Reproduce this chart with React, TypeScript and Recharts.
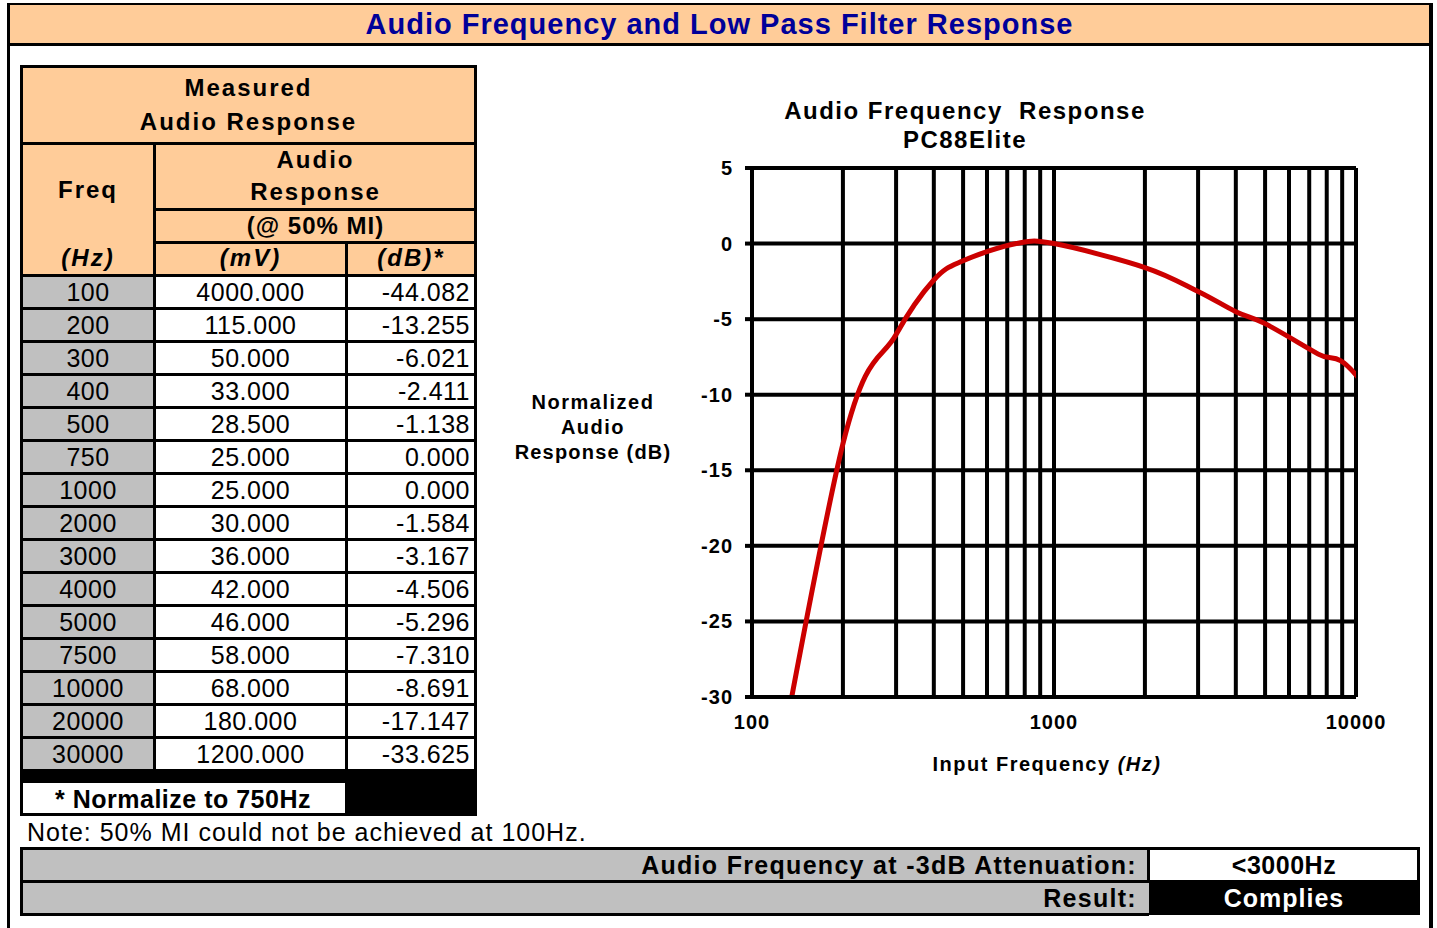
import React from 'react';
import { LineChart, Line, XAxis, YAxis, CartesianGrid } from 'recharts';

const FONT = '"Liberation Sans", Arial, Helvetica, sans-serif';

// ---- data ----
const freqs = [100, 200, 300, 400, 500, 750, 1000, 2000, 3000, 4000, 5000, 7500, 10000, 20000, 30000];
const mvValues = [4000, 115, 50, 33, 28.5, 25, 25, 30, 36, 42, 46, 58, 68, 180, 1200];
const dbValues = [-44.082, -13.255, -6.021, -2.411, -1.138, 0, 0, -1.584, -3.167, -4.506, -5.296, -7.31, -8.691, -17.147, -33.625];

const xGridTicks = [100, 200, 300, 400, 500, 600, 700, 800, 900, 1000, 2000, 3000, 4000, 5000, 6000, 7000, 8000, 9000, 10000];
const xLabelTicks = [100, 1000, 10000];
const yTicks = [5, 0, -5, -10, -15, -20, -25, -30];

const chartData = freqs.map((f, i) => ({ freq: f, db: dbValues[i] }));

// Excel-like smoothed line (Catmull-Rom style Bezier)
function excelSmooth(context: any) {
  let pts: number[][] = [];
  return {
    areaStart() {},
    areaEnd() {},
    lineStart() {
      pts = [];
    },
    point(x: number, y: number) {
      pts.push([+x, +y]);
    },
    lineEnd() {
      const n = pts.length;
      if (!n) return;
      context.moveTo(pts[0][0], pts[0][1]);
      for (let i = 0; i < n - 1; i++) {
        const p0 = pts[i - 1] || pts[i];
        const p1 = pts[i];
        const p2 = pts[i + 1];
        const p3 = pts[i + 2] || pts[i + 1];
        const c1x = p1[0] + (p2[0] - p0[0]) / 6;
        const c1y = p1[1] + (p2[1] - p0[1]) / 6;
        const c2x = p2[0] - (p3[0] - p1[0]) / 6;
        const c2y = p2[1] - (p3[1] - p1[1]) / 6;
        context.bezierCurveTo(c1x, c1y, c2x, c2y, p2[0], p2[1]);
      }
    },
  };
}

// ---- layout helpers ----
const Rect = ({ x, y, w, h, bg }: any) => (
  <div style={{ position: 'absolute', left: x, top: y, width: w, height: h, background: bg }} />
);
const HLine = ({ x1, x2, y, t = 3 }: any) => <Rect x={x1} y={y - t / 2} w={x2 - x1} h={t} bg="#000" />;
const VLine = ({ x, y1, y2, t = 3 }: any) => <Rect x={x - t / 2} y={y1} w={t} h={y2 - y1} bg="#000" />;
const Txt = ({ x, y, w, h, align = 'center', children, style }: any) => (
  <div
    style={{
      position: 'absolute',
      left: x,
      top: y,
      width: w,
      height: h,
      display: 'flex',
      alignItems: 'center',
      justifyContent: align === 'center' ? 'center' : align === 'right' ? 'flex-end' : 'flex-start',
      whiteSpace: 'pre',
      lineHeight: 1,
      color: '#000',
      ...style,
    }}
  >
    {children}
  </div>
);

const hdr = { fontSize: 24, fontWeight: 700, letterSpacing: 2 };
const cell = { fontSize: 25, letterSpacing: 0.5 };

const YTick = ({ x, y, payload }: any) => (
  <text x={x} y={y} textAnchor="end" dominantBaseline="central" fontFamily={FONT} fontSize={20} fontWeight={700} letterSpacing={1} fill="#000">
    {payload.value}
  </text>
);
const XTick = ({ x, y, payload }: any) =>
  xLabelTicks.includes(payload.value) ? (
    <text x={x} y={y + 25} textAnchor="middle" dominantBaseline="central" fontFamily={FONT} fontSize={20} fontWeight={700} letterSpacing={1} fill="#000">
      {payload.value}
    </text>
  ) : (
    <g />
  );

export default function App() {
  const rowTop = 275.5;
  const rowH = 33;
  return (
    <div style={{ position: 'absolute', left: 0, top: 0, width: 1437, height: 928, background: '#fff', fontFamily: FONT, overflow: 'hidden' }}>
      {/* frame and title bar */}
      <Rect x={8} y={3} w={1423} h={41} bg="#FFCC99" />
      <HLine x1={7} x2={1433} y={4} t={2} />
      <HLine x1={7} x2={1433} y={44} t={3} />
      <VLine x={8.5} y1={3} y2={928} t={3} />
      <VLine x={1431} y1={3} y2={928} t={4} />
      <Txt x={8} y={5} w={1423} h={39} style={{ fontSize: 29, fontWeight: 700, letterSpacing: 1, color: '#000099' }}>
        Audio Frequency and Low Pass Filter Response
      </Txt>

      {/* table backgrounds */}
      <Rect x={21} y={66} w={455} h={210} bg="#FFCC99" />
      <Rect x={21} y={276} w={134} h={495} bg="#C0C0C0" />

      {/* table lines */}
      <HLine x1={20} x2={477} y={66} />
      <HLine x1={20} x2={477} y={143.5} />
      <HLine x1={155} x2={477} y={209.5} />
      <HLine x1={155} x2={477} y={242.5} />
      <HLine x1={20} x2={477} y={275.5} />
      {freqs.map((f, i) => (
        <HLine key={'hl' + f} x1={20} x2={477} y={rowTop + rowH * (i + 1)} />
      ))}
      <VLine x={21} y1={65} y2={816} />
      <VLine x={475.5} y1={65} y2={816} />
      <VLine x={154.5} y1={143.5} y2={771} />
      <VLine x={346.5} y1={242.5} y2={771} />
      <Rect x={20} y={770} w={457} h={13} bg="#000" />
      <HLine x1={20} x2={345} y={814.5} />
      <Rect x={345} y={770} w={132} h={46} bg="#000" />

      {/* table header text */}
      <Txt x={21} y={72} w={455} h={32} style={hdr}>Measured</Txt>
      <Txt x={21} y={106} w={455} h={32} style={hdr}>Audio Response</Txt>
      <Txt x={21} y={174} w={134} h={32} style={hdr}>Freq</Txt>
      <Txt x={21} y={242} w={134} h={32} style={{ ...hdr, fontStyle: 'italic' }}>(Hz)</Txt>
      <Txt x={155} y={144} w={321} h={32} style={hdr}>Audio</Txt>
      <Txt x={155} y={176} w={321} h={32} style={hdr}>Response</Txt>
      <Txt x={155} y={210} w={321} h={32} style={{ ...hdr, letterSpacing: 1 }}>(@ 50% MI)</Txt>
      <Txt x={155} y={242} w={191} h={32} style={{ ...hdr, fontStyle: 'italic' }}>(mV)</Txt>
      <Txt x={346} y={242} w={130} h={32} style={{ ...hdr, fontStyle: 'italic' }}>(dB)*</Txt>

      {/* table rows */}
      {freqs.map((f, i) => {
        const top = rowTop + rowH * i + 1.5;
        return (
          <React.Fragment key={'r' + f}>
            <Txt x={21} y={top} w={134} h={30} style={cell}>{String(f)}</Txt>
            <Txt x={155} y={top} w={191} h={30} style={cell}>{mvValues[i].toFixed(3)}</Txt>
            <Txt x={346} y={top} w={124} h={30} align="right" style={cell}>{dbValues[i].toFixed(3)}</Txt>
          </React.Fragment>
        );
      })}
      <Txt x={21} y={784} w={324} h={30} style={{ fontSize: 25, fontWeight: 700, letterSpacing: 0.5 }}>* Normalize to 750Hz</Txt>
      <Txt x={27} y={817} w={700} h={30} align="left" style={{ fontSize: 25, letterSpacing: 1 }}>Note: 50% MI could not be achieved at 100Hz.</Txt>

      {/* bottom summary */}
      <Rect x={20} y={848} w={1129} h={67} bg="#C0C0C0" />
      <Rect x={1149} y={881} w={271} h={34} bg="#000" />
      <HLine x1={20} x2={1420} y={848.5} />
      <HLine x1={20} x2={1420} y={881.5} />
      <HLine x1={20} x2={1149} y={914.5} />
      <VLine x={21.5} y1={847} y2={916} />
      <VLine x={1148.5} y1={847} y2={882} />
      <VLine x={1418.5} y1={847} y2={882} />
      <Txt x={22} y={850} w={1115} h={31} align="right" style={{ fontSize: 25, fontWeight: 700, letterSpacing: 1.3 }}>
        Audio Frequency at -3dB Attenuation:
      </Txt>
      <Txt x={22} y={883} w={1115} h={31} align="right" style={{ fontSize: 25, fontWeight: 700, letterSpacing: 1.3 }}>
        Result:
      </Txt>
      <Txt x={1150} y={850} w={268} h={31} style={{ fontSize: 25, fontWeight: 700, letterSpacing: 0.5 }}>{'<3000Hz'}</Txt>
      <Txt x={1150} y={883} w={268} h={31} style={{ fontSize: 25, fontWeight: 700, letterSpacing: 1, color: '#fff' }}>Complies</Txt>

      {/* chart titles and axis labels */}
      <Txt x={765} y={97} w={400} h={28} style={{ fontSize: 24, fontWeight: 700, letterSpacing: 1.5 }}>Audio Frequency  Response</Txt>
      <Txt x={765} y={126} w={400} h={28} style={{ fontSize: 24, fontWeight: 700, letterSpacing: 1.5 }}>PC88Elite</Txt>
      <Txt x={493} y={390} w={200} h={24} style={{ fontSize: 20, fontWeight: 700, letterSpacing: 1.5 }}>Normalized</Txt>
      <Txt x={493} y={415} w={200} h={24} style={{ fontSize: 20, fontWeight: 700, letterSpacing: 1.5 }}>Audio</Txt>
      <Txt x={493} y={440} w={200} h={24} style={{ fontSize: 20, fontWeight: 700, letterSpacing: 1.2 }}>Response (dB)</Txt>
      <Txt x={847} y={752} w={400} h={24} style={{ fontSize: 20, fontWeight: 700, letterSpacing: 1.5 }}>
        Input Frequency <span style={{ fontStyle: 'italic' }}>(Hz)</span>
      </Txt>

      {/* chart */}
      <div style={{ position: 'absolute', left: 500, top: 150 }}>
        <LineChart width={920} height={660} data={chartData} margin={{ top: 18, right: 64, bottom: 0, left: 0 }}>
          <CartesianGrid stroke="#000" strokeWidth={4} />
          <XAxis
            dataKey="freq"
            type="number"
            scale="log"
            domain={[100, 10000]}
            allowDataOverflow
            ticks={xGridTicks}
            interval={0}
            tickLine={false}
            tickSize={0}
            tickMargin={0}
            height={113}
            axisLine={{ stroke: '#000', strokeWidth: 4 }}
            tick={<XTick />}
          />
          <YAxis
            type="number"
            domain={[-30, 5]}
            allowDataOverflow
            ticks={yTicks}
            interval={0}
            width={252}
            tickSize={7}
            tickMargin={12}
            tickLine={{ stroke: '#000', strokeWidth: 4 }}
            axisLine={{ stroke: '#000', strokeWidth: 4 }}
            tick={<YTick />}
          />
          <Line
            dataKey="db"
            type={excelSmooth as any}
            stroke="#CC0000"
            strokeWidth={5}
            dot={false}
            activeDot={false}
            isAnimationActive={false}
          />
        </LineChart>
      </div>
    </div>
  );
}
